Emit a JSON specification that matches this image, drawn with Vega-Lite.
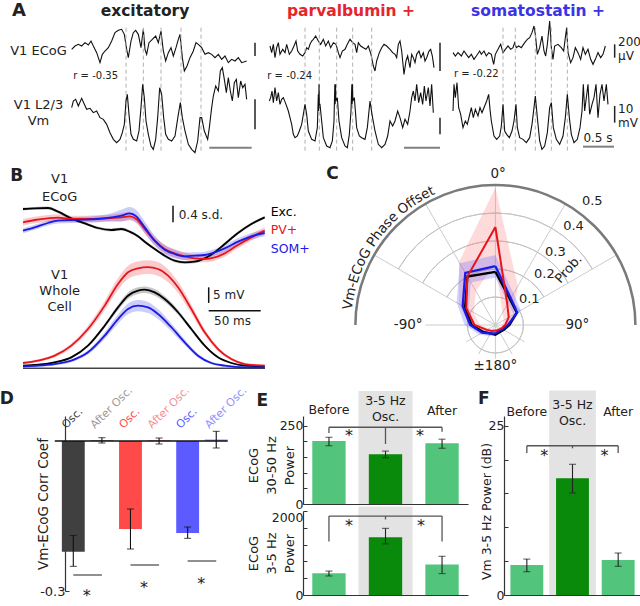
{
"$schema":"https://vega.github.io/schema/vega-lite/v6.json",
"padding":{"left":-1,"top":2,"right":0,"bottom":0},
"config":{"view":{"stroke":null},"font":"DejaVu Sans"},
"datasets":{
"a1e":[{"t":80,"v":325},{"t":120,"v":375},{"t":160,"v":400},{"t":200,"v":375},{"t":240,"v":425},{"t":280,"v":390},{"t":312,"v":450},{"t":340,"v":375},{"t":380,"v":275},{"t":420,"v":125},{"t":448,"v":250},{"t":480,"v":300},{"t":520,"v":350},{"t":560,"v":450},{"t":600,"v":575},{"t":640,"v":610},{"t":680,"v":625},{"t":712,"v":550},{"t":740,"v":325},{"t":760,"v":200},{"t":792,"v":450},{"t":820,"v":575},{"t":848,"v":610},{"t":880,"v":550},{"t":912,"v":350},{"t":940,"v":625},{"t":960,"v":325},{"t":980,"v":250},{"t":1008,"v":425},{"t":1048,"v":475},{"t":1088,"v":525},{"t":1120,"v":425},{"t":1152,"v":600},{"t":1180,"v":300},{"t":1208,"v":150},{"t":1240,"v":275},{"t":1272,"v":350},{"t":1300,"v":225},{"t":1332,"v":350},{"t":1360,"v":475},{"t":1380,"v":550},{"t":1408,"v":200},{"t":1432,"v":0},{"t":1464,"v":75},{"t":1500,"v":200},{"t":1540,"v":300},{"t":1572,"v":425},{"t":1600,"v":400},{"t":1640,"v":350},{"t":1680,"v":250},{"t":1720,"v":275},{"t":1760,"v":250},{"t":1800,"v":200},{"t":1840,"v":250},{"t":1880,"v":175},{"t":1920,"v":225},{"t":1960,"v":125},{"t":2000,"v":175},{"t":2040,"v":150},{"t":2080,"v":200},{"t":2120,"v":125},{"t":2180,"v":150}],
"a1v":[{"t":80,"v":-51},{"t":100,"v":-49},{"t":128,"v":-48.5},{"t":160,"v":-50.5},{"t":200,"v":-48.2},{"t":232,"v":-50},{"t":260,"v":-51.5},{"t":300,"v":-51.2},{"t":340,"v":-52.5},{"t":380,"v":-52},{"t":420,"v":-54},{"t":460,"v":-54.5},{"t":500,"v":-56},{"t":540,"v":-58.5},{"t":580,"v":-60.5},{"t":620,"v":-61.5},{"t":660,"v":-60.5},{"t":688,"v":-58.5},{"t":712,"v":-56},{"t":732,"v":-49},{"t":748,"v":-47},{"t":768,"v":-53},{"t":792,"v":-59},{"t":820,"v":-60.5},{"t":860,"v":-61},{"t":888,"v":-58},{"t":912,"v":-51},{"t":932,"v":-44},{"t":952,"v":-48},{"t":972,"v":-55},{"t":1000,"v":-59},{"t":1032,"v":-62.5},{"t":1060,"v":-63.5},{"t":1088,"v":-60.5},{"t":1112,"v":-54},{"t":1136,"v":-45},{"t":1160,"v":-47},{"t":1184,"v":-54},{"t":1208,"v":-59},{"t":1240,"v":-60.5},{"t":1280,"v":-61},{"t":1320,"v":-59.5},{"t":1360,"v":-53},{"t":1384,"v":-49.5},{"t":1408,"v":-54},{"t":1440,"v":-58},{"t":1480,"v":-62},{"t":1520,"v":-63.5},{"t":1560,"v":-64.5},{"t":1592,"v":-61},{"t":1620,"v":-54},{"t":1640,"v":-54},{"t":1672,"v":-58},{"t":1712,"v":-60.5},{"t":1732,"v":-57},{"t":1760,"v":-51},{"t":1780,"v":-47.5},{"t":1808,"v":-44.5},{"t":1840,"v":-46},{"t":1864,"v":-40},{"t":1888,"v":-39},{"t":1912,"v":-42.5},{"t":1936,"v":-46.5},{"t":1960,"v":-42},{"t":1984,"v":-46},{"t":2008,"v":-49},{"t":2032,"v":-43.5},{"t":2056,"v":-42.5},{"t":2080,"v":-48},{"t":2108,"v":-43},{"t":2132,"v":-45},{"t":2160,"v":-44},{"t":2180,"v":-48.5}],
"a2e":[{"t":120,"v":375},{"t":140,"v":275},{"t":160,"v":400},{"t":180,"v":200},{"t":200,"v":350},{"t":220,"v":425},{"t":240,"v":250},{"t":272,"v":325},{"t":300,"v":275},{"t":320,"v":400},{"t":352,"v":250},{"t":380,"v":300},{"t":408,"v":375},{"t":432,"v":450},{"t":452,"v":300},{"t":480,"v":250},{"t":512,"v":225},{"t":540,"v":275},{"t":560,"v":350},{"t":580,"v":325},{"t":600,"v":400},{"t":620,"v":450},{"t":640,"v":475},{"t":668,"v":525},{"t":700,"v":450},{"t":728,"v":400},{"t":760,"v":475},{"t":788,"v":375},{"t":820,"v":450},{"t":848,"v":350},{"t":880,"v":425},{"t":912,"v":400},{"t":940,"v":275},{"t":960,"v":200},{"t":988,"v":300},{"t":1020,"v":325},{"t":1048,"v":400},{"t":1080,"v":475},{"t":1112,"v":425},{"t":1140,"v":400},{"t":1160,"v":275},{"t":1180,"v":425},{"t":1208,"v":375},{"t":1240,"v":350},{"t":1272,"v":325},{"t":1300,"v":375},{"t":1332,"v":250},{"t":1360,"v":75},{"t":1380,"v":0},{"t":1400,"v":150},{"t":1432,"v":275},{"t":1460,"v":350},{"t":1488,"v":400},{"t":1520,"v":375},{"t":1560,"v":325},{"t":1592,"v":275},{"t":1620,"v":250},{"t":1640,"v":200},{"t":1660,"v":400},{"t":1680,"v":450},{"t":1700,"v":300},{"t":1728,"v":-50},{"t":1752,"v":150},{"t":1772,"v":225},{"t":1800,"v":50},{"t":1820,"v":250},{"t":1840,"v":200},{"t":1860,"v":125},{"t":1880,"v":250},{"t":1908,"v":300},{"t":1932,"v":200},{"t":1960,"v":275},{"t":1980,"v":150},{"t":2000,"v":200},{"t":2028,"v":300},{"t":2048,"v":325},{"t":2068,"v":225},{"t":2088,"v":50}],
"a2v":[{"t":112,"v":-49},{"t":128,"v":-48},{"t":144,"v":-46},{"t":160,"v":-49.5},{"t":180,"v":-45},{"t":200,"v":-49},{"t":220,"v":-46.5},{"t":240,"v":-50},{"t":260,"v":-48.5},{"t":280,"v":-48},{"t":312,"v":-50},{"t":340,"v":-52},{"t":360,"v":-54},{"t":380,"v":-56},{"t":400,"v":-59},{"t":420,"v":-60},{"t":448,"v":-59.5},{"t":472,"v":-58},{"t":500,"v":-56},{"t":520,"v":-53},{"t":540,"v":-50},{"t":560,"v":-53},{"t":580,"v":-58},{"t":620,"v":-60.5},{"t":660,"v":-61},{"t":688,"v":-57},{"t":700,"v":-47},{"t":704,"v":-52},{"t":708,"v":-44},{"t":712,"v":-50},{"t":720,"v":-50},{"t":740,"v":-55},{"t":760,"v":-60},{"t":800,"v":-62.5},{"t":840,"v":-63},{"t":868,"v":-61},{"t":888,"v":-55},{"t":898,"v":-44},{"t":902,"v":-50},{"t":906,"v":-44},{"t":910,"v":-49},{"t":928,"v":-48},{"t":948,"v":-55},{"t":980,"v":-60},{"t":1020,"v":-62.5},{"t":1048,"v":-63},{"t":1072,"v":-59},{"t":1092,"v":-52},{"t":1102,"v":-44},{"t":1106,"v":-50},{"t":1110,"v":-44},{"t":1114,"v":-49},{"t":1132,"v":-48},{"t":1160,"v":-57},{"t":1192,"v":-59.5},{"t":1220,"v":-60},{"t":1260,"v":-60.5},{"t":1288,"v":-57},{"t":1320,"v":-49},{"t":1344,"v":-53},{"t":1380,"v":-58},{"t":1420,"v":-62},{"t":1460,"v":-63},{"t":1500,"v":-62},{"t":1532,"v":-59.5},{"t":1560,"v":-55},{"t":1592,"v":-56.5},{"t":1620,"v":-55},{"t":1652,"v":-52},{"t":1680,"v":-54},{"t":1712,"v":-57},{"t":1740,"v":-54.5},{"t":1772,"v":-56},{"t":1800,"v":-52},{"t":1820,"v":-48},{"t":1840,"v":-46},{"t":1860,"v":-49},{"t":1880,"v":-44},{"t":1904,"v":-49.5},{"t":1928,"v":-46.5},{"t":1952,"v":-50},{"t":1972,"v":-44.5},{"t":1992,"v":-49},{"t":2020,"v":-45},{"t":2040,"v":-50.5},{"t":2060,"v":-44},{"t":2080,"v":-52.5}],
"a3e":[{"t":60,"v":275},{"t":88,"v":225},{"t":120,"v":275},{"t":160,"v":225},{"t":192,"v":300},{"t":220,"v":250},{"t":248,"v":200},{"t":280,"v":250},{"t":312,"v":175},{"t":340,"v":225},{"t":380,"v":300},{"t":400,"v":250},{"t":432,"v":300},{"t":460,"v":225},{"t":488,"v":275},{"t":520,"v":250},{"t":548,"v":100},{"t":568,"v":250},{"t":600,"v":325},{"t":632,"v":400},{"t":660,"v":275},{"t":688,"v":325},{"t":720,"v":375},{"t":752,"v":325},{"t":780,"v":350},{"t":800,"v":425},{"t":820,"v":350},{"t":848,"v":375},{"t":880,"v":350},{"t":920,"v":425},{"t":952,"v":475},{"t":980,"v":500},{"t":1008,"v":575},{"t":1032,"v":675},{"t":1048,"v":550},{"t":1072,"v":250},{"t":1100,"v":350},{"t":1128,"v":525},{"t":1152,"v":300},{"t":1172,"v":225},{"t":1192,"v":400},{"t":1220,"v":750},{"t":1240,"v":350},{"t":1260,"v":175},{"t":1280,"v":375},{"t":1320,"v":400},{"t":1360,"v":350},{"t":1388,"v":300},{"t":1408,"v":500},{"t":1424,"v":650},{"t":1440,"v":275},{"t":1472,"v":125},{"t":1500,"v":200},{"t":1528,"v":350},{"t":1560,"v":275},{"t":1592,"v":175},{"t":1620,"v":350},{"t":1648,"v":250},{"t":1680,"v":325},{"t":1712,"v":175},{"t":1740,"v":100},{"t":1768,"v":175},{"t":1800,"v":275},{"t":1832,"v":200},{"t":1860,"v":250},{"t":1888,"v":375}],
"a3v":[{"t":60,"v":-52},{"t":72,"v":-44},{"t":88,"v":-48},{"t":108,"v":-43.5},{"t":128,"v":-51},{"t":152,"v":-53},{"t":180,"v":-57},{"t":208,"v":-55},{"t":232,"v":-56},{"t":256,"v":-53.5},{"t":280,"v":-51},{"t":304,"v":-54},{"t":328,"v":-51.5},{"t":360,"v":-53.5},{"t":384,"v":-51},{"t":408,"v":-52.5},{"t":440,"v":-50.5},{"t":464,"v":-49},{"t":488,"v":-47},{"t":504,"v":-51.5},{"t":520,"v":-55},{"t":552,"v":-59.5},{"t":584,"v":-60.5},{"t":620,"v":-59.5},{"t":640,"v":-56.5},{"t":660,"v":-50},{"t":680,"v":-58},{"t":704,"v":-59},{"t":736,"v":-60},{"t":768,"v":-58},{"t":792,"v":-55},{"t":816,"v":-50},{"t":832,"v":-57},{"t":860,"v":-60},{"t":900,"v":-60.5},{"t":940,"v":-61.5},{"t":980,"v":-60},{"t":1008,"v":-56},{"t":1032,"v":-51},{"t":1048,"v":-47.5},{"t":1072,"v":-54},{"t":1100,"v":-61},{"t":1128,"v":-63.5},{"t":1160,"v":-62.5},{"t":1192,"v":-58.5},{"t":1220,"v":-51},{"t":1240,"v":-49.5},{"t":1264,"v":-57},{"t":1300,"v":-60.5},{"t":1340,"v":-62},{"t":1380,"v":-59.5},{"t":1408,"v":-54},{"t":1432,"v":-47},{"t":1456,"v":-54},{"t":1480,"v":-59},{"t":1512,"v":-61.5},{"t":1552,"v":-60.5},{"t":1584,"v":-57},{"t":1608,"v":-52},{"t":1624,"v":-44},{"t":1640,"v":-52},{"t":1660,"v":-48},{"t":1680,"v":-44},{"t":1700,"v":-53},{"t":1728,"v":-50},{"t":1752,"v":-48},{"t":1776,"v":-44},{"t":1800,"v":-54},{"t":1824,"v":-47},{"t":1848,"v":-44},{"t":1872,"v":-49},{"t":1900,"v":-44},{"t":1920,"v":-50}],
"becog":[
{"type":"Exc.","t":-120,"v":0.72,"lo":0.685,"hi":0.755},{"type":"Exc.","t":-108.3,"v":0.736,"lo":0.701,"hi":0.771},{"type":"Exc.","t":-95,"v":0.744,"lo":0.709,"hi":0.779},{"type":"Exc.","t":-85,"v":0.656,"lo":0.621,"hi":0.691},{"type":"Exc.","t":-71.7,"v":0.496,"lo":0.461,"hi":0.531},{"type":"Exc.","t":-58.3,"v":0.376,"lo":0.341,"hi":0.411},{"type":"Exc.","t":-45,"v":0.264,"lo":0.229,"hi":0.299},{"type":"Exc.","t":-31.7,"v":0.216,"lo":0.181,"hi":0.251},{"type":"Exc.","t":-21.7,"v":0.24,"lo":0.205,"hi":0.275},{"type":"Exc.","t":-13.3,"v":0.176,"lo":0.141,"hi":0.211},{"type":"Exc.","t":-5,"v":0.064,"lo":0.029,"hi":0.099},{"type":"Exc.","t":1.7,"v":-0.064,"lo":-0.099,"hi":-0.029},{"type":"Exc.","t":11.7,"v":-0.24,"lo":-0.275,"hi":-0.205},{"type":"Exc.","t":21.7,"v":-0.4,"lo":-0.435,"hi":-0.365},{"type":"Exc.","t":31.7,"v":-0.52,"lo":-0.555,"hi":-0.485},{"type":"Exc.","t":41.7,"v":-0.56,"lo":-0.595,"hi":-0.525},{"type":"Exc.","t":51.7,"v":-0.544,"lo":-0.579,"hi":-0.509},{"type":"Exc.","t":61.7,"v":-0.464,"lo":-0.499,"hi":-0.429},{"type":"Exc.","t":71.7,"v":-0.32,"lo":-0.355,"hi":-0.285},{"type":"Exc.","t":81.7,"v":-0.12,"lo":-0.155,"hi":-0.085},{"type":"Exc.","t":95,"v":0.144,"lo":0.109,"hi":0.179},{"type":"Exc.","t":108.3,"v":0.36,"lo":0.325,"hi":0.395},{"type":"Exc.","t":121.7,"v":0.52,"lo":0.485,"hi":0.555},
{"type":"PV+","t":-120,"v":0.4,"lo":0.32,"hi":0.48},{"type":"PV+","t":-108.3,"v":0.456,"lo":0.376,"hi":0.536},{"type":"PV+","t":-95,"v":0.496,"lo":0.416,"hi":0.576},{"type":"PV+","t":-85,"v":0.512,"lo":0.432,"hi":0.592},{"type":"PV+","t":-71.7,"v":0.48,"lo":0.4,"hi":0.56},{"type":"PV+","t":-58.3,"v":0.48,"lo":0.4,"hi":0.56},{"type":"PV+","t":-45,"v":0.488,"lo":0.408,"hi":0.568},{"type":"PV+","t":-31.7,"v":0.504,"lo":0.424,"hi":0.584},{"type":"PV+","t":-21.7,"v":0.52,"lo":0.42,"hi":0.62},{"type":"PV+","t":-13.3,"v":0.544,"lo":0.444,"hi":0.644},{"type":"PV+","t":-6.7,"v":0.48,"lo":0.38,"hi":0.58},{"type":"PV+","t":1.7,"v":0.24,"lo":0.14,"hi":0.34},{"type":"PV+","t":11.7,"v":-0.04,"lo":-0.14,"hi":0.06},{"type":"PV+","t":21.7,"v":-0.24,"lo":-0.34,"hi":-0.14},{"type":"PV+","t":31.7,"v":-0.344,"lo":-0.444,"hi":-0.244},{"type":"PV+","t":41.7,"v":-0.416,"lo":-0.506,"hi":-0.326},{"type":"PV+","t":51.7,"v":-0.464,"lo":-0.554,"hi":-0.374},{"type":"PV+","t":61.7,"v":-0.48,"lo":-0.56,"hi":-0.4},{"type":"PV+","t":71.7,"v":-0.44,"lo":-0.52,"hi":-0.36},{"type":"PV+","t":81.7,"v":-0.344,"lo":-0.424,"hi":-0.264},{"type":"PV+","t":95,"v":-0.144,"lo":-0.224,"hi":-0.064},{"type":"PV+","t":108.3,"v":0.04,"lo":-0.04,"hi":0.12},{"type":"PV+","t":121.7,"v":0.2,"lo":0.12,"hi":0.28},
{"type":"SOM+","t":-120,"v":0.2,"lo":0.14,"hi":0.26},{"type":"SOM+","t":-108.3,"v":0.28,"lo":0.22,"hi":0.34},{"type":"SOM+","t":-95,"v":0.384,"lo":0.324,"hi":0.444},{"type":"SOM+","t":-85,"v":0.44,"lo":0.37,"hi":0.51},{"type":"SOM+","t":-71.7,"v":0.456,"lo":0.386,"hi":0.526},{"type":"SOM+","t":-58.3,"v":0.464,"lo":0.394,"hi":0.534},{"type":"SOM+","t":-45,"v":0.48,"lo":0.4,"hi":0.56},{"type":"SOM+","t":-31.7,"v":0.52,"lo":0.42,"hi":0.62},{"type":"SOM+","t":-21.7,"v":0.56,"lo":0.42,"hi":0.7},{"type":"SOM+","t":-13.3,"v":0.616,"lo":0.466,"hi":0.766},{"type":"SOM+","t":-6.7,"v":0.544,"lo":0.394,"hi":0.694},{"type":"SOM+","t":1.7,"v":0.28,"lo":0.14,"hi":0.42},{"type":"SOM+","t":11.7,"v":-0.04,"lo":-0.16,"hi":0.08},{"type":"SOM+","t":21.7,"v":-0.256,"lo":-0.366,"hi":-0.146},{"type":"SOM+","t":31.7,"v":-0.36,"lo":-0.46,"hi":-0.26},{"type":"SOM+","t":41.7,"v":-0.416,"lo":-0.506,"hi":-0.326},{"type":"SOM+","t":51.7,"v":-0.4,"lo":-0.48,"hi":-0.32},{"type":"SOM+","t":61.7,"v":-0.384,"lo":-0.464,"hi":-0.304},{"type":"SOM+","t":71.7,"v":-0.32,"lo":-0.4,"hi":-0.24},{"type":"SOM+","t":81.7,"v":-0.224,"lo":-0.304,"hi":-0.144},{"type":"SOM+","t":95,"v":-0.064,"lo":-0.144,"hi":0.016},{"type":"SOM+","t":108.3,"v":0.064,"lo":-0.016,"hi":0.144},{"type":"SOM+","t":121.7,"v":0.144,"lo":0.064,"hi":0.224}],
"bvm":[
{"type":"Exc.","t":-120,"v":0.89,"lo":0.66,"hi":1.12},{"type":"Exc.","t":-105,"v":1.22,"lo":0.98,"hi":1.46},{"type":"Exc.","t":-88.3,"v":2,"lo":1.73,"hi":2.27},{"type":"Exc.","t":-71.7,"v":3.67,"lo":3.34,"hi":4.0},{"type":"Exc.","t":-55,"v":7.56,"lo":7.1,"hi":8.02},{"type":"Exc.","t":-38.3,"v":14.2,"lo":13.5,"hi":14.9},{"type":"Exc.","t":-25,"v":20.3,"lo":19.4,"hi":21.2},{"type":"Exc.","t":-15,"v":24.2,"lo":23.15,"hi":25.25},{"type":"Exc.","t":-5,"v":25.9,"lo":24.8,"hi":27.0},{"type":"Exc.","t":1.7,"v":26.2,"lo":25.1,"hi":27.3},{"type":"Exc.","t":11.7,"v":25.3,"lo":24.2,"hi":26.4},{"type":"Exc.","t":21.7,"v":23.1,"lo":22.1,"hi":24.1},{"type":"Exc.","t":35,"v":18.7,"lo":17.85,"hi":19.55},{"type":"Exc.","t":48.3,"v":13.1,"lo":12.44,"hi":13.76},{"type":"Exc.","t":61.7,"v":7.56,"lo":7.1,"hi":8.02},{"type":"Exc.","t":75,"v":3.67,"lo":3.34,"hi":4.0},{"type":"Exc.","t":88.3,"v":1.78,"lo":1.52,"hi":2.04},{"type":"Exc.","t":101.7,"v":0.89,"lo":0.66,"hi":1.12},{"type":"Exc.","t":121.7,"v":0.67,"lo":0.45,"hi":0.89},
{"type":"PV+","t":-120,"v":1.78,"lo":1.38,"hi":2.18},{"type":"PV+","t":-105,"v":2.56,"lo":2.11,"hi":3.01},{"type":"PV+","t":-88.3,"v":4.22,"lo":3.67,"hi":4.77},{"type":"PV+","t":-71.7,"v":7.56,"lo":6.81,"hi":8.31},{"type":"PV+","t":-55,"v":13.1,"lo":12.0,"hi":14.2},{"type":"PV+","t":-38.3,"v":20.9,"lo":19.35,"hi":22.45},{"type":"PV+","t":-25,"v":28.1,"lo":26.1,"hi":30.1},{"type":"PV+","t":-15,"v":32,"lo":29.8,"hi":34.2},{"type":"PV+","t":-5,"v":33.3,"lo":31.0,"hi":35.6},{"type":"PV+","t":5,"v":33.7,"lo":31.4,"hi":36.0},{"type":"PV+","t":15,"v":33.1,"lo":30.8,"hi":35.4},{"type":"PV+","t":25,"v":30.9,"lo":28.75,"hi":33.05},{"type":"PV+","t":35,"v":27,"lo":25.1,"hi":28.9},{"type":"PV+","t":48.3,"v":19.8,"lo":18.3,"hi":21.3},{"type":"PV+","t":61.7,"v":12,"lo":11.0,"hi":13.0},{"type":"PV+","t":75,"v":6.44,"lo":5.74,"hi":7.14},{"type":"PV+","t":88.3,"v":3.11,"lo":2.61,"hi":3.61},{"type":"PV+","t":101.7,"v":1.44,"lo":1.04,"hi":1.84},{"type":"PV+","t":121.7,"v":0.89,"lo":0.54,"hi":1.24},
{"type":"SOM+","t":-120,"v":0.67,"lo":0.32,"hi":1.02},{"type":"SOM+","t":-105,"v":0.89,"lo":0.52,"hi":1.26},{"type":"SOM+","t":-88.3,"v":1.44,"lo":1.03,"hi":1.85},{"type":"SOM+","t":-71.7,"v":2.56,"lo":2.07,"hi":3.05},{"type":"SOM+","t":-55,"v":5.33,"lo":4.63,"hi":6.03},{"type":"SOM+","t":-38.3,"v":10.9,"lo":9.78,"hi":12.02},{"type":"SOM+","t":-25,"v":16.4,"lo":14.87,"hi":17.93},{"type":"SOM+","t":-15,"v":19.8,"lo":18.0,"hi":21.6},{"type":"SOM+","t":-5,"v":20.9,"lo":19.03,"hi":22.77},{"type":"SOM+","t":5,"v":20.3,"lo":18.48,"hi":22.12},{"type":"SOM+","t":15,"v":18.1,"lo":16.44,"hi":19.76},{"type":"SOM+","t":28.3,"v":13.7,"lo":12.37,"hi":15.03},{"type":"SOM+","t":41.7,"v":8.67,"lo":7.72,"hi":9.62},{"type":"SOM+","t":55,"v":4.22,"lo":3.6,"hi":4.84},{"type":"SOM+","t":68.3,"v":1.78,"lo":1.35,"hi":2.21},{"type":"SOM+","t":81.7,"v":0.89,"lo":0.52,"hi":1.26},{"type":"SOM+","t":101.7,"v":0.33,"lo":0.01,"hi":0.65},{"type":"SOM+","t":121.7,"v":0.33,"lo":0.01,"hi":0.65}],
"cexc":[{"o":0,"x":0,"y":0.19},{"o":1,"x":0.0525,"y":0.0909},{"o":2,"x":0.0762,"y":0.044},{"o":3,"x":0.05,"y":0},{"o":4,"x":0.0303,"y":-0.0175},{"o":5,"x":0.015,"y":-0.026},{"o":6,"x":0,"y":-0.035},{"o":7,"x":-0.0175,"y":-0.0303},{"o":8,"x":-0.0433,"y":-0.025},{"o":9,"x":-0.085,"y":0},{"o":10,"x":-0.1083,"y":0.0625},{"o":11,"x":-0.1,"y":0.1732},{"o":12,"x":0,"y":0.19}],
"csom":[{"o":0,"x":0,"y":0.21},{"o":1,"x":0.055,"y":0.0953},{"o":2,"x":0.0779,"y":0.045},{"o":3,"x":0.045,"y":0},{"o":4,"x":0.026,"y":-0.015},{"o":5,"x":0.0125,"y":-0.0217},{"o":6,"x":0,"y":-0.03},{"o":7,"x":-0.0175,"y":-0.0303},{"o":8,"x":-0.0476,"y":-0.0275},{"o":9,"x":-0.09,"y":0},{"o":10,"x":-0.1169,"y":0.0675},{"o":11,"x":-0.1075,"y":0.1862},{"o":12,"x":0,"y":0.21}],
"cpv":[{"o":0,"x":0,"y":0.35},{"o":1,"x":0.0425,"y":0.0736},{"o":2,"x":0.0476,"y":0.0275},{"o":3,"x":0.035,"y":0},{"o":4,"x":0.0217,"y":-0.0125},{"o":5,"x":0.01,"y":-0.0173},{"o":6,"x":0,"y":-0.02},{"o":7,"x":-0.0125,"y":-0.0217},{"o":8,"x":-0.0303,"y":-0.0175},{"o":9,"x":-0.075,"y":0},{"o":10,"x":-0.1039,"y":0.06},{"o":11,"x":-0.1,"y":0.1732},{"o":12,"x":0,"y":0.35}],
"cbandpv":[{"o":0,"x":0,"y":0.49},{"o":1,"x":0.08,"y":0.1386},{"o":2,"x":0.065,"y":0.0375},{"o":3,"x":0.045,"y":0},{"o":4,"x":0.026,"y":-0.015},{"o":5,"x":0.0125,"y":-0.0217},{"o":6,"x":0,"y":-0.025},{"o":7,"x":-0.015,"y":-0.026},{"o":8,"x":-0.039,"y":-0.0225},{"o":9,"x":-0.095,"y":0},{"o":10,"x":-0.1299,"y":0.075},{"o":11,"x":-0.13,"y":0.2252},{"o":12,"x":0,"y":0.49},{"o":13,"x":0,"y":0.22},{"o":14,"x":-0.07,"y":0.1212},{"o":15,"x":-0.0779,"y":0.045},{"o":16,"x":-0.055,"y":0},{"o":17,"x":-0.0217,"y":-0.0125},{"o":18,"x":-0.01,"y":-0.0173},{"o":19,"x":0,"y":-0.015},{"o":20,"x":0.0075,"y":-0.013},{"o":21,"x":0.0156,"y":-0.009},{"o":22,"x":0.025,"y":0},{"o":23,"x":0.0303,"y":0.0175},{"o":24,"x":0.025,"y":0.0433},{"o":25,"x":0,"y":0.22}],
"cbandsom":[{"o":0,"x":0,"y":0.25},{"o":1,"x":0.065,"y":0.1126},{"o":2,"x":0.0909,"y":0.0525},{"o":3,"x":0.055,"y":0},{"o":4,"x":0.0329,"y":-0.019},{"o":5,"x":0.016,"y":-0.0277},{"o":6,"x":0,"y":-0.038},{"o":7,"x":-0.0225,"y":-0.039},{"o":8,"x":-0.0589,"y":-0.034},{"o":9,"x":-0.11,"y":0},{"o":10,"x":-0.1386,"y":0.08},{"o":11,"x":-0.1275,"y":0.2208},{"o":12,"x":0,"y":0.25},{"o":13,"x":0,"y":0.17},{"o":14,"x":-0.0875,"y":0.1516},{"o":15,"x":-0.0953,"y":0.055},{"o":16,"x":-0.07,"y":0},{"o":17,"x":-0.0364,"y":-0.021},{"o":18,"x":-0.0125,"y":-0.0217},{"o":19,"x":0,"y":-0.022},{"o":20,"x":0.009,"y":-0.0156},{"o":21,"x":0.019,"y":-0.011},{"o":22,"x":0.035,"y":0},{"o":23,"x":0.065,"y":0.0375},{"o":24,"x":0.045,"y":0.0779},{"o":25,"x":0,"y":0.17}],
"cchars":[{"ch":"V","x":-0.525,"y":0.0719,"a":-82.2},{"ch":"m","x":-0.518,"y":0.111,"a":-77.9},{"ch":"-","x":-0.5105,"y":0.1425,"a":-74.4},{"ch":"E","x":-0.5035,"y":0.1655,"a":-71.8},{"ch":"C","x":-0.4924,"y":0.1959,"a":-68.3},{"ch":"o","x":-0.48,"y":0.2248,"a":-64.9},{"ch":"G","x":-0.4649,"y":0.2545,"a":-61.3},{"ch":"P","x":-0.4394,"y":0.2964,"a":-56.0},{"ch":"h","x":-0.4221,"y":0.3204,"a":-52.8},{"ch":"a","x":-0.403,"y":0.3442,"a":-49.5},{"ch":"s","x":-0.3851,"y":0.3642,"a":-46.6},{"ch":"e","x":-0.3655,"y":0.3838,"a":-43.6},{"ch":"O","x":-0.3285,"y":0.4159,"a":-38.3},{"ch":"f","x":-0.3063,"y":0.4325,"a":-35.3},{"ch":"f","x":-0.2925,"y":0.442,"a":-33.5},{"ch":"s","x":-0.2745,"y":0.4534,"a":-31.2},{"ch":"e","x":-0.2505,"y":0.4671,"a":-28.2},{"ch":"t","x":-0.229,"y":0.478,"a":-25.6}]
},
"columns":1,"align":"none","spacing":3,
"resolve":{"scale":{"color":"independent"}},
"concat":[
{"hconcat":[
 {"width":250,"height":140,
  "encoding":{"x":{"field":"t","type":"quantitative","scale":{"domain":[-660,2340],"nice":false,"zero":false},"axis":null}},
  "layer":[
   {"encoding":{"y":{"field":"v","type":"quantitative","scale":{"domain":[-1350,750],"nice":false,"zero":false},"axis":null}},
    "layer":[
     {"data":{"name":"a1e"},"mark":{"type":"line","color":"#111","strokeWidth":1.1}},
     {"data":{"values":[{"t":2280,"v":425,"v2":225}]},"mark":{"type":"rule","color":"#222","strokeWidth":1.5},"encoding":{"y2":{"field":"v2"}}},
     {"data":{"values":[{"t":960,"v":900}]},"mark":{"type":"text","text":"excitatory","fontSize":15.5,"fontWeight":"bold","color":"#222","baseline":"middle"}},
     {"data":{"values":[{"t":-552,"v":900}]},"mark":{"type":"text","text":"A","fontSize":18,"fontWeight":"bold","color":"#222","baseline":"middle"}},
     {"data":{"values":[{"t":-318,"v":300}]},"mark":{"type":"text","text":"V1 ECoG","fontSize":13,"color":"#222","align":"center","baseline":"middle"}}
    ]},
   {"encoding":{"y":{"field":"v","type":"quantitative","scale":{"domain":[-67,-25],"nice":false,"zero":false},"axis":null}},
    "layer":[
     {"data":{"values":[{"t":732,"v":-27,"v2":-64},{"t":940,"v":-27,"v2":-64},{"t":1152,"v":-27,"v2":-64},{"t":1392,"v":-27,"v2":-64},{"t":1632,"v":-27,"v2":-64}]},"mark":{"type":"rule","color":"#b0b0b0","strokeDash":[4,3],"strokeWidth":1},"encoding":{"y2":{"field":"v2"}}},
     {"data":{"name":"a1v"},"mark":{"type":"line","color":"#111","strokeWidth":1.1}},
     {"data":{"values":[{"t":2280,"v":-48.5,"v2":-57.5}]},"mark":{"type":"rule","color":"#222","strokeWidth":1.5},"encoding":{"y2":{"field":"v2"}}},
     {"data":{"values":[{"t":1732,"t2":2240,"v":-63}]},"mark":{"type":"rule","color":"#808080","strokeWidth":2},"encoding":{"x2":{"field":"t2"}}},
     {"data":{"values":[{"t":100,"v":-41.5}]},"mark":{"type":"text","text":"r = -0.35","align":"left","baseline":"middle","fontSize":10,"color":"#222"}},
     {"data":{"values":[{"t":-318,"v":-50.2}]},"mark":{"type":"text","text":["V1 L2/3","Vm"],"fontSize":13,"lineHeight":16,"color":"#222","align":"center","baseline":"middle"}}
    ]}
  ],
  "resolve":{"scale":{"y":"independent"}}},
 {"width":190,"height":140,
  "encoding":{"x":{"field":"t","type":"quantitative","scale":{"domain":[0,2280],"nice":false,"zero":false},"axis":null}},
  "layer":[
   {"encoding":{"y":{"field":"v","type":"quantitative","scale":{"domain":[-1350,750],"nice":false,"zero":false},"axis":null}},
    "layer":[
     {"data":{"name":"a2e"},"mark":{"type":"line","color":"#111","strokeWidth":1.1}},
     {"data":{"values":[{"t":2160,"v":425,"v2":0}]},"mark":{"type":"rule","color":"#222","strokeWidth":1.5},"encoding":{"y2":{"field":"v2"}}},
     {"data":{"values":[{"t":1092,"v":900}]},"mark":{"type":"text","text":"parvalbumin +","fontSize":15.5,"fontWeight":"bold","color":"#e4262c","baseline":"middle"}}
    ]},
   {"encoding":{"y":{"field":"v","type":"quantitative","scale":{"domain":[-67,-25],"nice":false,"zero":false},"axis":null}},
    "layer":[
     {"data":{"values":[{"t":540,"v":-27,"v2":-64},{"t":712,"v":-27,"v2":-64},{"t":920,"v":-27,"v2":-64},{"t":1112,"v":-27,"v2":-64},{"t":1340,"v":-27,"v2":-64}]},"mark":{"type":"rule","color":"#b0b0b0","strokeDash":[4,3],"strokeWidth":1},"encoding":{"y2":{"field":"v2"}}},
     {"data":{"name":"a2v"},"mark":{"type":"line","color":"#111","strokeWidth":1.1}},
     {"data":{"values":[{"t":2160,"v":-54,"v2":-59}]},"mark":{"type":"rule","color":"#222","strokeWidth":1.5},"encoding":{"y2":{"field":"v2"}}},
     {"data":{"values":[{"t":1728,"t2":2160,"v":-63}]},"mark":{"type":"rule","color":"#808080","strokeWidth":2},"encoding":{"x2":{"field":"t2"}}},
     {"data":{"values":[{"t":88,"v":-41.5}]},"mark":{"type":"text","text":"r = -0.24","align":"left","baseline":"middle","fontSize":10,"color":"#222"}}
    ]}
  ],
  "resolve":{"scale":{"y":"independent"}}},
 {"width":195,"height":140,
  "encoding":{"x":{"field":"t","type":"quantitative","scale":{"domain":[60,2400],"nice":false,"zero":false},"axis":null}},
  "layer":[
   {"encoding":{"y":{"field":"v","type":"quantitative","scale":{"domain":[-1350,750],"nice":false,"zero":false},"axis":null}},
    "layer":[
     {"data":{"name":"a3e"},"mark":{"type":"line","color":"#111","strokeWidth":1.1}},
     {"data":{"values":[{"t":2000,"v":400,"v2":200}]},"mark":{"type":"rule","color":"#222","strokeWidth":1.5},"encoding":{"y2":{"field":"v2"}}},
     {"data":{"values":[{"t":2040,"v":430}]},"mark":{"type":"text","text":"200","align":"left","baseline":"middle","fontSize":12,"color":"#222"}},
     {"data":{"values":[{"t":2040,"v":225}]},"mark":{"type":"text","text":"µV","align":"left","baseline":"middle","fontSize":12,"color":"#222"}},
     {"data":{"values":[{"t":1080,"v":900}]},"mark":{"type":"text","text":"somatostatin +","fontSize":15.5,"fontWeight":"bold","color":"#3b33e6","baseline":"middle"}}
    ]},
   {"encoding":{"y":{"field":"v","type":"quantitative","scale":{"domain":[-67,-25],"nice":false,"zero":false},"axis":null}},
    "layer":[
     {"data":{"values":[{"t":660,"v":-27,"v2":-64},{"t":808,"v":-27,"v2":-64},{"t":1048,"v":-27,"v2":-64},{"t":1240,"v":-27,"v2":-64},{"t":1432,"v":-27,"v2":-64}]},"mark":{"type":"rule","color":"#b0b0b0","strokeDash":[4,3],"strokeWidth":1},"encoding":{"y2":{"field":"v2"}}},
     {"data":{"name":"a3v"},"mark":{"type":"line","color":"#111","strokeWidth":1.1}},
     {"data":{"values":[{"t":2000,"v":-50.5,"v2":-55.5}]},"mark":{"type":"rule","color":"#222","strokeWidth":1.5},"encoding":{"y2":{"field":"v2"}}},
     {"data":{"values":[{"t":2040,"v":-51.3}]},"mark":{"type":"text","text":"10","align":"left","baseline":"middle","fontSize":12,"color":"#222"}},
     {"data":{"values":[{"t":2040,"v":-55.5}]},"mark":{"type":"text","text":"mV","align":"left","baseline":"middle","fontSize":12,"color":"#222"}},
     {"data":{"values":[{"t":1620,"t2":1992,"v":-62.7}]},"mark":{"type":"rule","color":"#808080","strokeWidth":2},"encoding":{"x2":{"field":"t2"}}},
     {"data":{"values":[{"t":1800,"v":-60.2}]},"mark":{"type":"text","text":"0.5 s","align":"center","baseline":"middle","fontSize":12,"color":"#222"}},
     {"data":{"values":[{"t":72,"v":-41}]},"mark":{"type":"text","text":"r = -0.22","align":"left","baseline":"middle","fontSize":10,"color":"#222"}}
    ]}
  ],
  "resolve":{"scale":{"y":"independent"}}}
],"spacing":0},
{"hconcat":[
 {"width":255,"height":217,
  "encoding":{"x":{"field":"t","type":"quantitative","scale":{"domain":[-133,122],"nice":false,"zero":false},"axis":null}},
  "layer":[
   {"encoding":{"y":{"field":"v","type":"quantitative","scale":{"domain":[-3.408,1.8],"nice":false,"zero":false},"axis":null}},
    "layer":[
     {"data":{"name":"becog"},"mark":{"type":"area","opacity":0.22,"interpolate":"monotone"},"encoding":{"y":{"field":"lo","type":"quantitative"},"y2":{"field":"hi"},"color":{"field":"type","type":"nominal","scale":{"domain":["Exc.","PV+","SOM+"],"range":["#000000","#e8141c","#1a1ae6"]},"legend":null}}},
     {"data":{"name":"becog"},"mark":{"type":"line","strokeWidth":1.8,"interpolate":"monotone"},"encoding":{"color":{"field":"type","type":"nominal","scale":{"domain":["Exc.","PV+","SOM+"],"range":["#000000","#e8141c","#1a1ae6"]},"legend":null}}},
     {"data":{"values":[{"t":30,"v":0.8,"v2":0.4}]},"mark":{"type":"rule","color":"#111","strokeWidth":1.5},"encoding":{"y2":{"field":"v2"}}},
     {"data":{"values":[{"t":35.7,"v":0.584}]},"mark":{"type":"text","text":"0.4 s.d.","align":"left","baseline":"middle","fontSize":12,"color":"#222"}},
     {"data":{"values":[{"type":"Exc.","t":127.7,"v":0.648},{"type":"PV+","t":127.7,"v":0.216},{"type":"SOM+","t":127.7,"v":-0.24}]},"mark":{"type":"text","align":"left","baseline":"middle","fontSize":12.5},"encoding":{"text":{"field":"type"},"color":{"field":"type","type":"nominal","scale":{"domain":["Exc.","PV+","SOM+"],"range":["#000000","#e8141c","#1a1ae6"]},"legend":null}}},
     {"data":{"values":[{"t":-83.3,"v":1.44}]},"mark":{"type":"text","text":["V1","ECoG"],"align":"center","baseline":"middle","fontSize":13,"lineHeight":18,"color":"#222"}},
     {"data":{"values":[{"t":-126.3,"v":1.512}]},"mark":{"type":"text","text":"B","align":"center","baseline":"middle","fontSize":17,"fontWeight":"bold","color":"#222"}}
    ]},
   {"encoding":{"y":{"field":"v","type":"quantitative","scale":{"domain":[-4.22,68.1],"nice":false,"zero":false},"axis":null}},
    "layer":[
     {"data":{"values":[{"t":-120,"t2":122,"v":0}]},"mark":{"type":"rule","color":"#444","strokeWidth":1.5},"encoding":{"x2":{"field":"t2"}}},
     {"data":{"name":"bvm"},"mark":{"type":"area","opacity":0.22,"interpolate":"monotone"},"encoding":{"y":{"field":"lo","type":"quantitative"},"y2":{"field":"hi"},"color":{"field":"type","type":"nominal","scale":{"domain":["Exc.","PV+","SOM+"],"range":["#000000","#e8141c","#1a1ae6"]},"legend":null}}},
     {"data":{"name":"bvm"},"mark":{"type":"line","strokeWidth":1.8,"interpolate":"monotone"},"encoding":{"color":{"field":"type","type":"nominal","scale":{"domain":["Exc.","PV+","SOM+"],"range":["#000000","#e8141c","#1a1ae6"]},"legend":null}}},
     {"data":{"values":[{"t":65.7,"v":27,"v2":21.8}]},"mark":{"type":"rule","color":"#111","strokeWidth":1.5},"encoding":{"y2":{"field":"v2"}}},
     {"data":{"values":[{"t":65.7,"t2":117.7,"v":19.2}]},"mark":{"type":"rule","color":"#111","strokeWidth":1.5},"encoding":{"x2":{"field":"t2"}}},
     {"data":{"values":[{"t":70,"v":24.3}]},"mark":{"type":"text","text":"5 mV","align":"left","baseline":"middle","fontSize":12,"color":"#222"}},
     {"data":{"values":[{"t":71,"v":15.9}]},"mark":{"type":"text","text":"50 ms","align":"left","baseline":"middle","fontSize":12,"color":"#222"}},
     {"data":{"values":[{"t":-83.3,"v":31.1}]},"mark":{"type":"text","text":["V1","Whole","Cell"],"align":"center","baseline":"middle","fontSize":13,"lineHeight":16,"color":"#222"}}
    ]}
  ],
  "resolve":{"scale":{"y":"independent"}}},
 {"width":294,"height":217,
  "encoding":{"x":{"field":"x","type":"quantitative","scale":{"domain":[-0.53,0.52],"nice":false,"zero":false},"axis":null},
   "y":{"field":"y","type":"quantitative","scale":{"domain":[-0.2,0.575],"nice":false,"zero":false},"axis":null}},
  "layer":[
   {"data":{"values":[{"x":0,"y":0,"x2":0,"y2":0.5},{"x":0,"y":0,"x2":0.25,"y2":0.433},{"x":0,"y":0,"x2":-0.25,"y2":0.433},{"x":0,"y":0,"x2":0.433,"y2":0.25},{"x":0,"y":0,"x2":-0.433,"y2":0.25},{"x":0,"y":0,"x2":0.25,"y2":0},{"x":0,"y":0,"x2":-0.25,"y2":0},{"x":0,"y":0,"x2":0.104,"y2":-0.06},{"x":0,"y":0,"x2":-0.104,"y2":-0.06},{"x":0,"y":0,"x2":0.06,"y2":-0.104},{"x":0,"y":0,"x2":-0.06,"y2":-0.104},{"x":0,"y":0,"x2":0,"y2":-0.12}]},"mark":{"type":"rule","color":"#cccccc","strokeWidth":1},"encoding":{"x2":{"field":"x2"},"y2":{"field":"y2"}}},
   {"data":{"values":[{"r":0.1,"x":0,"y":0}]},"mark":{"type":"arc","filled":false,"stroke":"#c4c4c4","strokeWidth":1,"theta":0,"theta2":6.2832},"encoding":{"radius":{"field":"r","type":"quantitative","scale":{"type":"linear","domain":[0,0.5],"range":[0,140],"zero":true,"nice":false}},"radius2":{"field":"r"}}},
   {"data":{"values":[{"r":0.2,"x":0,"y":0},{"r":0.3,"x":0,"y":0},{"r":0.4,"x":0,"y":0}]},"mark":{"type":"arc","filled":false,"stroke":"#c4c4c4","strokeWidth":1,"theta":-1.0472,"theta2":1.0472},"encoding":{"radius":{"field":"r","type":"quantitative","scale":{"type":"linear","domain":[0,0.5],"range":[0,140],"zero":true,"nice":false}},"radius2":{"field":"r"}}},
   {"data":{"values":[{"r":0.5,"x":0,"y":0}]},"mark":{"type":"arc","filled":false,"stroke":"#7a7a7a","strokeWidth":2.5,"theta":-1.5708,"theta2":1.5708},"encoding":{"radius":{"field":"r","type":"quantitative","scale":{"type":"linear","domain":[0,0.5],"range":[0,140],"zero":true,"nice":false}},"radius2":{"field":"r"}}},
   {"data":{"name":"cbandpv"},"mark":{"type":"line","fill":"#ff6b6b","fillOpacity":0.25,"stroke":"transparent","strokeWidth":0},"encoding":{"order":{"field":"o","type":"quantitative"}}},
   {"data":{"name":"cbandsom"},"mark":{"type":"line","fill":"#6b6bff","fillOpacity":0.3,"stroke":"transparent","strokeWidth":0},"encoding":{"order":{"field":"o","type":"quantitative"}}},
   {"data":{"name":"cexc"},"mark":{"type":"line","color":"#000000","strokeWidth":2.3},"encoding":{"order":{"field":"o","type":"quantitative"}}},
   {"data":{"name":"csom"},"mark":{"type":"line","color":"#1a1ae6","strokeWidth":2.3},"encoding":{"order":{"field":"o","type":"quantitative"}}},
   {"data":{"name":"cpv"},"mark":{"type":"line","color":"#e8141c","strokeWidth":2},"encoding":{"order":{"field":"o","type":"quantitative"}}},
   {"data":{"name":"cchars"},"mark":{"type":"text","fontSize":13.5,"align":"center","baseline":"middle","color":"#222"},"encoding":{"text":{"field":"ch"},"angle":{"field":"a","type":"quantitative","scale":null}}},
   {"data":{"values":[{"x":0.01,"y":0.54}]},"mark":{"type":"text","text":"0°","align":"center","baseline":"middle","fontSize":13.5,"color":"#222"}},
   {"data":{"values":[{"x":0.25,"y":0}]},"mark":{"type":"text","text":"90°","align":"left","baseline":"middle","fontSize":13.5,"color":"#222"}},
   {"data":{"values":[{"x":-0.26,"y":0}]},"mark":{"type":"text","text":"-90°","align":"right","baseline":"middle","fontSize":13.5,"color":"#222"}},
   {"data":{"values":[{"x":0,"y":-0.146}]},"mark":{"type":"text","text":"±180°","align":"center","baseline":"middle","fontSize":13.5,"color":"#222"}},
   {"data":{"values":[{"x":0.121,"y":0.093,"lab":"0.1"},{"x":0.175,"y":0.182,"lab":"0.2"},{"x":0.214,"y":0.261,"lab":"0.3"},{"x":0.279,"y":0.354,"lab":"0.4"},{"x":0.346,"y":0.443,"lab":"0.5"}]},"mark":{"type":"text","align":"center","baseline":"middle","fontSize":13,"color":"#222"},"encoding":{"text":{"field":"lab"}}},
   {"data":{"values":[{"x":0.261,"y":0.2}]},"mark":{"type":"text","text":"Prob.","align":"center","baseline":"middle","fontSize":13,"angle":-48,"color":"#222"}},
   {"data":{"values":[{"x":-0.582,"y":0.539}]},"mark":{"type":"text","text":"C","align":"center","baseline":"middle","fontSize":17,"fontWeight":"bold","color":"#222"}}
  ]}
],"spacing":16},
{"hconcat":[
 {"hconcat":[
 {"width":223,"height":175,
  "layer":[
   {"data":{"values":[{"c":"e1","v":-0.2213},{"c":"e2","v":0.002},{"c":"p1","v":-0.176},{"c":"p2","v":0.002},{"c":"s1","v":-0.184},{"c":"s2","v":0.003}]},
    "mark":{"type":"bar"},
    "encoding":{"x":{"field":"c","type":"nominal","sort":null,"scale":{"domain":["e1","e2","p1","p2","s1","s2"],"paddingInner":0.2,"paddingOuter":1.273,"align":0.907},"axis":null},
     "y":{"field":"v","type":"quantitative","scale":{"domain":[-0.3,0.05],"nice":false,"zero":false},"axis":{"offset":-55,"values":[0.05,0,-0.05,-0.1,-0.15,-0.2,-0.25,-0.3],"labelExpr":"datum.value > 0.04 ? '0.05' : (datum.value < -0.29 ? '-0.3' : '')","tickSize":-4,"tickColor":"#333","domainColor":"#333","domainWidth":1.2,"labelFontSize":13,"labelColor":"#222","labelPadding":4,"grid":false,"title":"Vm-ECoG Corr Coef","titleFontSize":13.5,"titleFontWeight":"normal","titleColor":"#222","titleX":-22,"titleBaseline":"middle"}},
     "color":{"field":"c","type":"nominal","scale":{"domain":["e1","e2","p1","p2","s1","s2"],"range":["#404040","#9a9a9a","#ff4a4a","#f29090","#5b5bff","#8f8fff"]},"legend":null}}},
   {"data":{"values":[{"c":"e1","c2":"s2"}]},"mark":{"type":"rule","color":"#111","strokeWidth":1.3},"encoding":{"x":{"field":"c","type":"nominal","sort":null,"bandPosition":-0.31},"x2":{"field":"c2","bandPosition":1},"y":{"datum":0,"type":"quantitative"}}},
   {"data":{"values":[{"c":"e1","v":-0.2507,"v2":-0.189},{"c":"e2","v":-0.004,"v2":0.0066},{"c":"p1","v":-0.216,"v2":-0.136},{"c":"p2","v":-0.006,"v2":0.006},{"c":"s1","v":-0.1947,"v2":-0.172},{"c":"s2","v":-0.014,"v2":0.0193}]},
    "mark":{"type":"rule","color":"#111","strokeWidth":1.1},
    "encoding":{"x":{"field":"c","type":"nominal","sort":null},"y":{"field":"v","type":"quantitative"},"y2":{"field":"v2"}}},
   {"data":{"values":[{"c":"e1","v":-0.2507},{"c":"e1","v":-0.189},{"c":"e2","v":-0.004},{"c":"e2","v":0.0066},{"c":"p1","v":-0.216},{"c":"p1","v":-0.136},{"c":"p2","v":-0.006},{"c":"p2","v":0.006},{"c":"s1","v":-0.1947},{"c":"s1","v":-0.172},{"c":"s2","v":-0.014},{"c":"s2","v":0.0193}]},
    "mark":{"type":"tick","color":"#111","size":7,"thickness":1.1},
    "encoding":{"x":{"field":"c","type":"nominal","sort":null},"y":{"field":"v","type":"quantitative"}}},
   {"data":{"values":[{"c":"e1","lab":"Osc."},{"c":"e2","lab":"After Osc."},{"c":"p1","lab":"Osc."},{"c":"p2","lab":"After Osc."},{"c":"s1","lab":"Osc."},{"c":"s2","lab":"After Osc."}]},
    "mark":{"type":"text","angle":-45,"align":"left","baseline":"alphabetic","fontSize":11,"dx":-10},
    "encoding":{"x":{"field":"c","type":"nominal","sort":null},"y":{"datum":0.038,"type":"quantitative"},"text":{"field":"lab"},"color":{"field":"c","type":"nominal","legend":null}}},
   {"data":{"values":[{"c":"e1","c2":"e2","v":-0.268},{"c":"p1","c2":"p2","v":-0.248},{"c":"s1","c2":"s2","v":-0.24}]},
    "mark":{"type":"rule","color":"#333","strokeWidth":1.1},
    "encoding":{"x":{"field":"c","type":"nominal","sort":null},"x2":{"field":"c2"},"y":{"field":"v","type":"quantitative"}}},
   {"data":{"values":[{"c":"e1","v":-0.32},{"c":"p1","v":-0.304},{"c":"s1","v":-0.296}]},
    "mark":{"type":"text","text":"*","fontSize":16,"baseline":"alphabetic","dx":13.5,"color":"#222"},
    "encoding":{"x":{"field":"c","type":"nominal","sort":null},"y":{"field":"v","type":"quantitative"}}},
   {"data":{"values":[{"c":"e1"}]},
    "mark":{"type":"text","text":"D","fontSize":17,"fontWeight":"bold","baseline":"middle","dx":-66.4,"color":"#222"},
    "encoding":{"x":{"field":"c","type":"nominal","sort":null},"y":{"datum":0.0834,"type":"quantitative"}}}
  ]},
 {"vconcat":[
  {"width":165,"height":88,
   "encoding":{"x":{"field":"c","type":"nominal","sort":null,"scale":{"domain":["Before","Osc","After"],"paddingInner":0.41,"paddingOuter":0.164},"axis":{"orient":"bottom","labels":false,"ticks":false,"title":null,"domainColor":"#333","domainWidth":1.2}},
    "y":{"field":"v","type":"quantitative","scale":{"domain":[0,281],"nice":false,"zero":false},"axis":{"values":[0,50,100,150,200,250],"format":"d","labelExpr":"datum.value == 0 || datum.value == 250 ? datum.label : ''","tickSize":-4,"tickColor":"#333","domainColor":"#333","domainWidth":1.2,"labelFontSize":12.5,"labelColor":"#222","labelPadding":4,"grid":false,"title":["ECoG","30-50 Hz","Power"],"titleFontSize":13,"titleFontWeight":"normal","titleColor":"#222","titleLineHeight":18,"titleX":-49.7,"titleY":49,"titleBaseline":"middle"}}},
   "layer":[
    {"data":{"values":[{"c":"Osc","v":361,"v2":0}]},"mark":{"type":"bar","color":"#e3e3e3","width":{"band":1.62}},"encoding":{"y2":{"field":"v2"}}},
    {"data":{"values":[{"c":"Before","v":201},{"c":"Osc","v":158.6},{"c":"After","v":193.8}]},"mark":{"type":"bar"},"encoding":{"color":{"field":"c","type":"nominal","scale":{"domain":["Before","Osc","After"],"range":["#52c47c","#0a8a0a","#52c47c"]},"legend":null}}},
    {"data":{"values":[{"c":"Before","v":186,"v2":213},{"c":"Osc","v":148,"v2":169},{"c":"After","v":178,"v2":207}]},"mark":{"type":"rule","color":"#222","strokeWidth":1.1},"encoding":{"y2":{"field":"v2"}}},
    {"data":{"values":[{"c":"Before","v":186},{"c":"Before","v":213},{"c":"Osc","v":148},{"c":"Osc","v":169},{"c":"After","v":178},{"c":"After","v":207}]},"mark":{"type":"tick","color":"#222","size":7,"thickness":1.1}},
    {"data":{"values":[{"c":"Before","c2":"After","v":245}]},"mark":{"type":"rule","color":"#555","strokeWidth":1.3},"encoding":{"x2":{"field":"c2"}}},
    {"data":{"values":[{"c":"Before","v":245,"v2":226.7},{"c":"Osc","v":245,"v2":191.6},{"c":"After","v":245,"v2":231}]},"mark":{"type":"rule","color":"#555","strokeWidth":1.3},"encoding":{"y2":{"field":"v2"}}},
    {"data":{"values":[{"c":"Before","v":201}]},"mark":{"type":"text","text":"*","fontSize":16,"baseline":"alphabetic","dx":20,"color":"#222"}},
    {"data":{"values":[{"c":"After","v":201}]},"mark":{"type":"text","text":"*","fontSize":16,"baseline":"alphabetic","dx":-22,"color":"#222"}},
    {"data":{"values":[{"c":"Before","v":300,"lab":"Before"},{"c":"After","v":298,"lab":"After"}]},"mark":{"type":"text","fontSize":12.5,"baseline":"middle","color":"#222"},"encoding":{"text":{"field":"lab"}}},
    {"data":{"values":[{"c":"Osc","v":328.8}]},"mark":{"type":"text","text":["3-5 Hz","Osc."],"fontSize":12.5,"lineHeight":16,"baseline":"middle","color":"#222"}},
    {"data":{"values":[{"c":"Before","v":329.8}]},"mark":{"type":"text","text":"E","fontSize":17,"fontWeight":"bold","baseline":"middle","dx":-66.7,"color":"#222"}}
   ]},
  {"width":165,"height":84,
   "encoding":{"x":{"field":"c","type":"nominal","sort":null,"scale":{"domain":["Before","Osc","After"],"paddingInner":0.41,"paddingOuter":0.164},"axis":{"orient":"bottom","labels":false,"ticks":false,"title":null,"domainColor":"#333","domainWidth":1.2}},
    "y":{"field":"v","type":"quantitative","scale":{"domain":[0,2000],"nice":false,"zero":false},"axis":{"values":[0,400,800,1200,1600,2000],"format":"d","labelExpr":"datum.value == 0 || datum.value == 2000 ? datum.label : ''","labelBaseline":{"condition":{"test":"datum.value == 2000","value":"top"},"value":"middle"},"tickSize":-4,"tickColor":"#333","domainColor":"#333","domainWidth":1.2,"labelFontSize":12.5,"labelColor":"#222","labelPadding":4,"grid":false,"title":["ECoG","3-5 Hz","Power"],"titleFontSize":13,"titleFontWeight":"normal","titleColor":"#222","titleLineHeight":18,"titleX":-49.7,"titleBaseline":"middle"}}},
   "layer":[
    {"data":{"values":[{"c":"Osc","v":2110,"v2":0}]},"mark":{"type":"bar","color":"#e3e3e3","width":{"band":1.62}},"encoding":{"y2":{"field":"v2"}}},
    {"data":{"values":[{"c":"Before","v":516},{"c":"Osc","v":1376},{"c":"After","v":727}]},"mark":{"type":"bar"},"encoding":{"color":{"field":"c","type":"nominal","scale":{"domain":["Before","Osc","After"],"range":["#52c47c","#0a8a0a","#52c47c"]},"legend":null}}},
    {"data":{"values":[{"c":"Before","v":453,"v2":570},{"c":"Osc","v":1219,"v2":1587},{"c":"After","v":509,"v2":922}]},"mark":{"type":"rule","color":"#222","strokeWidth":1.1},"encoding":{"y2":{"field":"v2"}}},
    {"data":{"values":[{"c":"Before","v":453},{"c":"Before","v":570},{"c":"Osc","v":1219},{"c":"Osc","v":1587},{"c":"After","v":509},{"c":"After","v":922}]},"mark":{"type":"tick","color":"#222","size":7,"thickness":1.1}},
    {"data":{"values":[{"c":"Before","c2":"After","v":1880}]},"mark":{"type":"rule","color":"#555","strokeWidth":1.3},"encoding":{"x2":{"field":"c2"}}},
    {"data":{"values":[{"c":"Before","v":1880,"v2":1273},{"c":"Osc","v":1880,"v2":1798},{"c":"After","v":1880,"v2":1273}]},"mark":{"type":"rule","color":"#555","strokeWidth":1.3},"encoding":{"y2":{"field":"v2"}}},
    {"data":{"values":[{"c":"Before","v":1531}]},"mark":{"type":"text","text":"*","fontSize":16,"baseline":"alphabetic","dx":20,"color":"#222"}},
    {"data":{"values":[{"c":"After","v":1531}]},"mark":{"type":"text","text":"*","fontSize":16,"baseline":"alphabetic","dx":-21,"color":"#222"}}
   ]}
 ],"spacing":-8}
 ],"spacing":-2,"resolve":{"scale":{"color":"independent"}}},
 {"width":137,"height":179,
  "encoding":{"x":{"field":"c","type":"nominal","sort":null,"scale":{"domain":["Before","Osc","After"],"paddingInner":0.28,"paddingOuter":0.14},"axis":{"orient":"bottom","labels":false,"ticks":false,"title":null,"domainColor":"#333","domainWidth":1.2}},
   "y":{"field":"v","type":"quantitative","scale":{"domain":[0,26.43],"nice":false,"zero":false},"axis":{"values":[0,5,10,15,20,25],"format":"d","labelExpr":"datum.value == 0 || datum.value == 25 ? datum.label : ''","tickSize":-4,"tickColor":"#333","domainColor":"#333","domainWidth":1.2,"labelFontSize":12.5,"labelColor":"#222","labelPadding":4,"grid":false,"title":"Vm 3-5 Hz Power (dB)","titleFontSize":12.5,"titleFontWeight":"normal","titleColor":"#222","titleX":-17.7,"titleY":95,"titleBaseline":"middle"}}},
  "layer":[
   {"data":{"values":[{"c":"Osc","v":30.2,"v2":0}]},"mark":{"type":"bar","color":"#e3e3e3","width":{"band":1.42}},"encoding":{"y2":{"field":"v2"}}},
   {"data":{"values":[{"c":"Before","v":4.43},{"c":"Osc","v":17.23},{"c":"After","v":5.17}]},"mark":{"type":"bar"},"encoding":{"color":{"field":"c","type":"nominal","scale":{"domain":["Before","Osc","After"],"range":["#52c47c","#0a8a0a","#52c47c"]},"legend":null}}},
   {"data":{"values":[{"c":"Before","v":3.44,"v2":5.3},{"c":"Osc","v":15.06,"v2":19.3},{"c":"After","v":4.24,"v2":6.2}]},"mark":{"type":"rule","color":"#222","strokeWidth":1.1},"encoding":{"y2":{"field":"v2"}}},
   {"data":{"values":[{"c":"Before","v":3.44},{"c":"Before","v":5.3},{"c":"Osc","v":15.06},{"c":"Osc","v":19.3},{"c":"After","v":4.24},{"c":"After","v":6.2}]},"mark":{"type":"tick","color":"#222","size":7,"thickness":1.1}},
   {"data":{"values":[{"c":"Before","c2":"After","v":22.04}]},"mark":{"type":"rule","color":"#555","strokeWidth":1.3},"encoding":{"x2":{"field":"c2"}}},
   {"data":{"values":[{"c":"Before","v":22.04,"v2":20.96},{"c":"Osc","v":22.04,"v2":21.66},{"c":"After","v":22.04,"v2":20.96}]},"mark":{"type":"rule","color":"#555","strokeWidth":1.3},"encoding":{"y2":{"field":"v2"}}},
   {"data":{"values":[{"c":"Before","v":19.8}]},"mark":{"type":"text","text":"*","fontSize":16,"baseline":"alphabetic","dx":17.5,"color":"#222"}},
   {"data":{"values":[{"c":"After","v":19.8}]},"mark":{"type":"text","text":"*","fontSize":16,"baseline":"alphabetic","dx":-13.7,"color":"#222"}},
   {"data":{"values":[{"c":"Before","v":26.98,"lab":"Before"},{"c":"After","v":26.98,"lab":"After"}]},"mark":{"type":"text","fontSize":12.5,"baseline":"middle","color":"#222"},"encoding":{"text":{"field":"lab"}}},
   {"data":{"values":[{"c":"Osc","v":28.1}]},"mark":{"type":"text","text":["3-5 Hz","Osc."],"fontSize":12.5,"lineHeight":16,"baseline":"middle","color":"#222"}},
   {"data":{"values":[{"c":"Before","v":28.94}]},"mark":{"type":"text","text":"F","fontSize":17,"fontWeight":"bold","baseline":"middle","dx":-43,"color":"#222"}}
  ]}
],"spacing":10,"resolve":{"scale":{"color":"independent"}}}
]
}
